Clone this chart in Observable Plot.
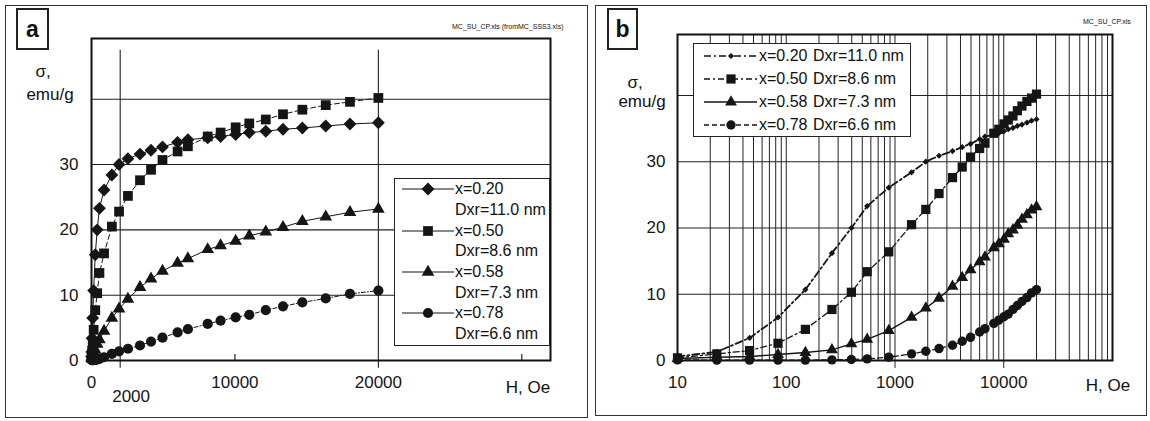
<!DOCTYPE html>
<html><head><meta charset="utf-8">
<script src="https://cdn.jsdelivr.net/npm/d3@7"></script>
<script src="https://cdn.jsdelivr.net/npm/@observablehq/plot@0.6"></script>
<style>
body{margin:0;background:#fff;font-family:"Liberation Sans",Arial,sans-serif;color:#111}
#root{position:relative;width:1150px;height:421px;overflow:hidden;background:#fff}
#root svg.plot{position:absolute;top:0}
.box{position:absolute;border:1px solid #333;box-sizing:border-box}
.lbl{position:absolute;white-space:nowrap;font-size:17px;transform:translate(-50%,-50%);line-height:1}
.tag{position:absolute;border:2px solid #222;box-sizing:border-box;font-weight:bold;font-size:23px;display:flex;align-items:center;justify-content:center}
.fname{position:absolute;font-size:7px;white-space:nowrap;overflow:hidden;line-height:1.4}
.legend{position:absolute;background:#fff;border:1.5px solid #222;box-sizing:border-box}
.row{display:flex;align-items:center;white-space:nowrap}
.row > *{flex:none}
</style></head>
<body><div id="root"></div>
<script>
// ---- data ----
const H = [10, 23, 46, 84, 150, 263, 397, 555, 876, 1420, 1920, 2540, 3380, 4150, 4950, 6000, 6720, 8100, 9000, 10050, 11000, 12150, 13350, 14700, 16330, 18020, 20000];
const s020 = [0.6, 1.3, 3.4, 6.5, 10.7, 16.2, 20.0, 23.3, 26.1, 28.4, 30.0, 30.9, 31.6, 32.2, 32.7, 33.4, 33.8, 34.1, 34.3, 34.6, 34.9, 35.1, 35.4, 35.6, 35.9, 36.2, 36.4];
const s050 = [0.4, 1.0, 1.5, 2.6, 4.7, 7.7, 10.3, 13.4, 16.4, 20.5, 22.8, 25.2, 27.6, 29.2, 30.7, 32.0, 32.8, 34.3, 34.9, 35.7, 36.3, 36.9, 37.7, 38.4, 39.1, 39.6, 40.2];
const s058 = [0.3, 0.5, 0.6, 0.9, 1.2, 1.6, 2.5, 3.2, 4.5, 6.5, 7.9, 9.4, 11.2, 12.5, 13.7, 14.9, 15.6, 17.0, 17.6, 18.3, 19.1, 19.7, 20.4, 21.3, 22.0, 22.7, 23.2];
const s078 = [0.1, 0.05, 0.05, 0.05, 0.05, 0.1, 0.15, 0.25, 0.5, 1.0, 1.4, 1.8, 2.3, 2.9, 3.5, 4.3, 4.8, 5.6, 6.1, 6.6, 7.0, 7.7, 8.3, 8.9, 9.5, 10.2, 10.7];
const seriesX = ["x=0.20", "x=0.50", "x=0.58", "x=0.78"];
const seriesD = ["Dxr=11.0 nm", "Dxr=8.6 nm", "Dxr=7.3 nm", "Dxr=6.6 nm"];
const seriesVals = [s020, s050, s058, s078];
const symbols = ["diamond2", "square", "triangle", "circle"];
// ticks / grid
const yTicks = [0, 10, 20, 30];
const yGrid = [10, 20, 30, 40];
const xTicksA = [0, 10000, 20000];
const xTickA2 = [2000];
const xGridA = [2000, 20000];
const xTickMarksA = [10000, 30000];
const xTicksB = [10, 100, 1000, 10000];
const xGridB = [20, 30, 40, 50, 60, 70, 80, 90, 100, 200, 300, 400, 500, 600, 700, 800, 900, 1000,
  2000, 3000, 4000, 5000, 6000, 7000, 8000, 9000, 10000, 20000, 30000, 40000, 50000, 60000, 70000, 80000, 90000];
const xDecadesB = [1000, 10000];

const rows = seriesVals.map(vals => H.map((h, i) => ({H: h, s: vals[i]})));

const styleA = [
  {dash: null, sw: 1, r: 5.8},
  {dash: "5,3", sw: 1, r: 5.5},
  {dash: null, sw: 1, r: 4.7},
  {dash: "4,2,1,2", sw: 1, r: 5.1}
];
const styleB = [
  {dash: "7,3,2,3", sw: 1.8, r: 2.8},
  {dash: "6,3,2,3", sw: 1.3, r: 5.2},
  {dash: null, sw: 1.4, r: 4.4},
  {dash: "5,3", sw: 1.3, r: 4.7}
];

const root = document.getElementById("root");
const ink = "#151515";
const fmt = d3.format("d");

function seriesMarks(st) {
  const m = [];
  rows.forEach((data, k) => {
    m.push(Plot.line(data, {x: "H", y: "s", stroke: ink, strokeWidth: st[k].sw,
      strokeDasharray: st[k].dash || undefined}));
    m.push(Plot.dot(data, {x: "H", y: "s", symbol: () => symbols[k], r: st[k].r, fill: ink, stroke: "none"}));
  });
  return m;
}

// ---- panel a ----
const pa = Plot.plot({
  width: 590, height: 421,
  marginLeft: 91, marginRight: 40, marginTop: 38, marginBottom: 61,
  x: {domain: [0, 32000]},
  y: {domain: [0, 49.3]},
  style: {fontFamily: '"Liberation Sans", Arial, sans-serif', fontSize: "17px", color: ink, background: "transparent", overflow: "visible"},
  marks: [
    Plot.ruleY(yGrid, {stroke: "#222", strokeWidth: 1.1}),
    Plot.ruleX(xGridA, {y1: 47.5, y2: -1.2, stroke: "#222", strokeWidth: 1.1}),
    Plot.ruleX(xTickMarksA, {y1: 0, y2: 0.9, stroke: "#222", strokeWidth: 1.2}),
    Plot.frame({stroke: "#111", strokeWidth: 2}),
    Plot.axisY({ticks: yTicks, tickSize: 0, tickPadding: 13, label: null, tickFormat: fmt}),
    Plot.axisX({ticks: xTicksA, tickSize: 0, tickPadding: 15, label: null, tickFormat: fmt}),
    Plot.axisX({ticks: xTickA2, tickSize: 0, tickPadding: 29, label: null, tickFormat: fmt, textAnchor: "start", dx: -8}),
    ...seriesMarks(styleA)
  ]
});
pa.classList.add("plot");
pa.style.left = "0px";
root.appendChild(pa);

// ---- panel b ----
const pb = Plot.plot({
  width: 560, height: 421,
  marginLeft: 87, marginRight: 38, marginTop: 34, marginBottom: 61,
  x: {type: "log", domain: [10, 100000]},
  y: {domain: [0, 49.2]},
  style: {fontFamily: '"Liberation Sans", Arial, sans-serif', fontSize: "17px", color: ink, background: "transparent", overflow: "visible"},
  marks: [
    Plot.ruleY(yGrid, {stroke: "#222", strokeWidth: 1.1}),
    Plot.ruleX(xGridB, {stroke: "#222", strokeWidth: 1}),
    Plot.ruleX(xDecadesB, {y1: 0, y2: -1.2, stroke: "#222", strokeWidth: 1}),
    Plot.frame({stroke: "#111", strokeWidth: 2}),
    Plot.axisY({ticks: yTicks, tickSize: 0, tickPadding: 12, label: null, tickFormat: fmt}),
    Plot.axisX({ticks: xTicksB, tickSize: 0, tickPadding: 15, label: null, tickFormat: fmt}),
    ...seriesMarks(styleB)
  ]
});
pb.classList.add("plot");
pb.style.left = "590px";
root.appendChild(pb);

// ---- overlays: frames, labels, legends ----
function el(cls, css, html) {
  const d = document.createElement("div");
  d.className = cls;
  Object.assign(d.style, css);
  if (html != null) d.innerHTML = html;
  root.appendChild(d);
  return d;
}
el("box", {left: "5px", top: "5px", width: "583px", height: "413px"});
el("box", {left: "595px", top: "5px", width: "552px", height: "411px"});
el("tag", {left: "16px", top: "8px", width: "33px", height: "42px"}, "a");
el("tag", {left: "607px", top: "8px", width: "31px", height: "42px"}, "b");
el("fname", {left: "452px", top: "22px", width: "134px"}, "MC_SU_CP.xls (fromMC_SSS3.xls)");
el("fname", {left: "1083px", top: "17px"}, "MC_SU_CP.xls");
el("lbl", {left: "43px", top: "71px"}, "σ,");
el("lbl", {left: "50px", top: "94px"}, "emu/g");
el("lbl", {left: "635px", top: "82px"}, "σ,");
el("lbl", {left: "642px", top: "101px"}, "emu/g");
el("lbl", {left: "528px", top: "387px"}, "H, Oe");
el("lbl", {left: "1108px", top: "385px"}, "H, Oe");

const symMap = {diamond2: d3.symbolDiamond2, square: d3.symbolSquare, triangle: d3.symbolTriangle, circle: d3.symbolCircle};
function sample(k, st, w, mx, legendDash) {
  const svg = d3.create("svg").attr("width", w).attr("height", 16);
  svg.append("line").attr("x1", 0).attr("x2", w).attr("y1", 8).attr("y2", 8)
    .attr("stroke", ink).attr("stroke-width", legendDash ? 1.4 : 1.1)
    .attr("stroke-dasharray", legendDash ? (st[k].dash || null) : null);
  svg.append("path").attr("transform", `translate(${mx},8)`)
    .attr("d", d3.symbol(symMap[symbols[k]], Math.PI * st[k].r * st[k].r)()).attr("fill", ink);
  return svg.node();
}

// legend a (two lines per entry)
const la = el("legend", {left: "394px", top: "178px", width: "156px", height: "168px", padding: "0px 0 0 7px", fontSize: "16px"});
seriesX.forEach((t, k) => {
  const r1 = document.createElement("div"); r1.className = "row"; r1.style.height = "20.7px";
  r1.appendChild(sample(k, styleA, 52, 26, false));
  const s1 = document.createElement("span"); s1.textContent = t; s1.style.marginLeft = "1px"; r1.appendChild(s1);
  const r2 = document.createElement("div"); r2.className = "row"; r2.style.height = "20.7px"; r2.style.paddingLeft = "53px";
  r2.textContent = seriesD[k];
  la.appendChild(r1); la.appendChild(r2);
});

// legend b (one line per entry)
const lb = el("legend", {left: "693px", top: "43px", width: "218px", height: "94px", padding: "0 0 0 10px", fontSize: "16px"});
seriesX.forEach((t, k) => {
  const r = document.createElement("div"); r.className = "row"; r.style.height = "23px";
  r.appendChild(sample(k, styleB, 53, 27, true));
  const a = document.createElement("span"); a.textContent = t;
  a.style.width = "54px"; a.style.display = "inline-block"; a.style.marginLeft = "2px";
  const b = document.createElement("span"); b.textContent = seriesD[k];
  r.appendChild(a); r.appendChild(b);
  lb.appendChild(r);
});
</script>
</body></html>
